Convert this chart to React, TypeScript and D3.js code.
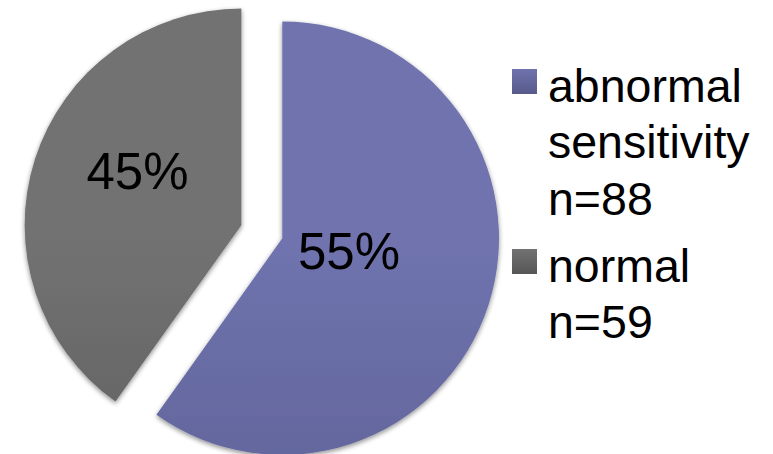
import React from "react";
import * as d3 from "d3";

const categories = ["abnormal sensitivity", "normal"];
const counts = [88, 59];
const sliceLabels = ["55%", "45%"];
const legendLines = [["abnormal", "sensitivity", "n=88"], ["normal", "n=59"]];

const W = 773;
const H = 454;
const cx = 282.3;
const cy = 238.3;
const R = 216.7;
const explode = [0, 43];
const gradTop = ["#6f73ae", "#727272"];
const gradBot = ["#585a8b", "#565656"];
const labelR = [70, 109];
const labelDy = [-8, -20];

export default function App() {
  const pie = d3.pie<number>().sort(null).value((d) => d).startAngle(0).endAngle(2 * Math.PI);
  const arcs = pie(counts);
  const arcGen = d3.arc<d3.PieArcDatum<number>>().innerRadius(0).outerRadius(R);

  const legendY = [69, 249];
  const lineH = 56.5;

  return (
    <svg width={W} height={H} style={{ position: "absolute", left: 0, top: 0 }}>
      <defs>
        {categories.map((c, i) => (
          <linearGradient key={c} id={`g${i}`} gradientUnits="userSpaceOnUse" x1="0" y1="8" x2="0" y2="454">
            <stop offset="0" stopColor={gradTop[i]} />
            <stop offset="1" stopColor={gradBot[i]} />
          </linearGradient>
        ))}
        {categories.map((c, i) => (
          <linearGradient key={c + "l"} id={`lg${i}`} x1="0" y1="0" x2="0" y2="1">
            <stop offset="0" stopColor={gradTop[i]} />
            <stop offset="1" stopColor={gradBot[i]} />
          </linearGradient>
        ))}
        <filter id="shadow" x="-10%" y="-10%" width="120%" height="120%">
          <feGaussianBlur in="SourceAlpha" stdDeviation="2.5" />
          <feOffset dx="0" dy="2" result="b" />
          <feComponentTransfer>
            <feFuncA type="linear" slope="0.45" />
          </feComponentTransfer>
          <feMerge>
            <feMergeNode />
            <feMergeNode in="SourceGraphic" />
          </feMerge>
        </filter>
      </defs>
      {arcs.map((a, i) => {
        const mid = (a.startAngle + a.endAngle) / 2;
        const ox = Math.sin(mid) * explode[i];
        const oy = -Math.cos(mid) * explode[i];
        return (
          <g key={categories[i]} transform={`translate(${cx + ox},${cy + oy})`}>
            <path d={arcGen(a) || ""} fill={`url(#g${i})`} filter="url(#shadow)" />
          </g>
        );
      })}
      {arcs.map((a, i) => {
        const mid = (a.startAngle + a.endAngle) / 2;
        const ox = Math.sin(mid) * explode[i];
        const oy = -Math.cos(mid) * explode[i];
        const lx = Math.sin(mid) * labelR[i];
        const ly = -Math.cos(mid) * labelR[i] + labelDy[i];
        return (
          <text
            key={"t" + i}
            x={cx + ox + lx}
            y={cy + oy + ly}
            textAnchor="middle"
            dominantBaseline="central"
            fontFamily="Liberation Sans, Arial, sans-serif"
            fontSize={51}
            fill="#000"
          >
            {sliceLabels[i]}
          </text>
        );
      })}
      {legendLines.map((lines, i) => (
        <g key={"l" + i}>
          <rect x={512} y={legendY[i]} width={25} height={25} fill={`url(#lg${i})`} />
          {lines.map((ln, j) => (
            <text
              key={ln}
              x={548}
              y={legendY[i] + 32.7 + j * lineH}
              fontFamily="Liberation Sans, Arial, sans-serif"
              fontSize={46.5}
              fill="#000"
            >
              {ln}
            </text>
          ))}
        </g>
      ))}
    </svg>
  );
}
